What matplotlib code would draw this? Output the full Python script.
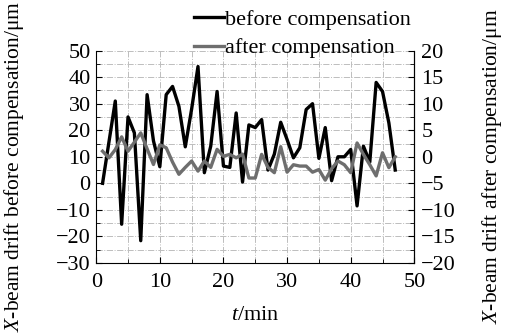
import matplotlib
matplotlib.use('Agg')
import matplotlib.pyplot as plt
from matplotlib.ticker import MultipleLocator

plt.rcParams['font.family'] = ['Liberation Serif', 'DejaVu Serif']
plt.rcParams['mathtext.fontset'] = 'custom'
plt.rcParams['mathtext.it'] = 'Liberation Serif:italic'
plt.rcParams['mathtext.rm'] = 'Liberation Serif'

# Data
t_min = list(range(1, 48))
before = [0, 15.5, 31, -15.4, 25, 19, -21.6, 33.4, 16, 6.25,
          33.4, 36.5, 29, 13.75, 28, 44, 4, 14, 34.6, 6.5,
          6, 26.5, 0.5, 22, 21, 24, 5, 11, 23, 16.5,
          9.6, 13.4, 27.8, 30, 9.4, 21, 1, 10, 10, 12.75,
          -8.5, 14, 8, 38, 34.6, 22.75, 5]
after = [1.05, -0.2, 1.35, 3.75, 1.05, 2.75, 4.5, 1.5, -1.45, 2.25,
         1.7, -1.0, -3.3, -2.0, -0.8, -2.7, -0.8, -2.0, 1.4, 0.1,
         0.45, -0.2, 0.5, -4.0, -4.0, 0.45, -2.0, -3.0, 1.9, -2.9,
         -1.5, -1.75, -1.75, -2.9, -2.4, -4.4, -2.25, -0.8, -1.5, -3.0,
         2.6, 0.45, -1.5, -3.6, 0.75, -2.05, 0.0]

fs = 16
fig = plt.figure(figsize=(5.09, 3.35), dpi=100)
ax = fig.add_axes([0.189, 0.215, 0.625, 0.634])
ax2 = ax.twinx()

l1, = ax.plot(t_min, before, color='black', lw=2.4, label='before compensation', zorder=3)
l2, = ax2.plot(t_min, after, color='#6e6e6e', lw=2.4, label='after compensation', zorder=3)

ax.set_xlim(0, 50)
ax.set_ylim(-30, 50)
ax2.set_ylim(-20, 20)

ax.xaxis.set_major_locator(MultipleLocator(10))
ax.xaxis.set_minor_locator(MultipleLocator(5))
ax.yaxis.set_major_locator(MultipleLocator(10))
ax.yaxis.set_minor_locator(MultipleLocator(5))
ax2.yaxis.set_major_locator(MultipleLocator(5))
ax2.yaxis.set_minor_locator(MultipleLocator(2.5))

ax.grid(which='both', color='#bdbdbd', linestyle='-.', linewidth=0.7)
ax.set_axisbelow(True)

for a in (ax, ax2):
    a.spines['top'].set_visible(False)
    a.tick_params(which='both', direction='in', labelsize=fs)
    a.tick_params(which='major', length=4)
    a.tick_params(which='minor', length=3)
ax.tick_params(axis='x', pad=7)
ax.tick_params(axis='y', pad=4)
ax2.tick_params(axis='y', pad=5)
ax2.spines['left'].set_visible(False)
ax2.spines['bottom'].set_visible(False)

def fmt(v, pos):
    return ('\u2212%g' % -v) if v < 0 else '%g' % v
ax.yaxis.set_major_formatter(plt.FuncFormatter(fmt))
ax2.yaxis.set_major_formatter(plt.FuncFormatter(fmt))

ax.set_xlabel('$t$/min', fontsize=fs, labelpad=10)
ax.set_ylabel('$X$-beam drift before compensation/\u03bcm', fontsize=15.5)
ax2.set_ylabel('$X$-beam drift after compensation/\u03bcm', fontsize=15.5)
ax.yaxis.set_label_coords(-0.22, 0.455)
ax2.yaxis.set_label_coords(1.205, 0.455)

fig.legend(handles=[l1, l2], loc='upper left', bbox_to_anchor=(0.35, 1.018),
           frameon=False, fontsize=fs, handlelength=1.35, handletextpad=0.08,
           labelspacing=0.35, borderpad=0.2)

fig.savefig('out.png', dpi=100)
